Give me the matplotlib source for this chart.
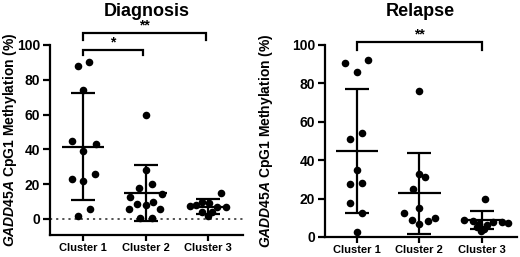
import numpy as np
import matplotlib
matplotlib.use("Agg")
import matplotlib.pyplot as plt

plt.rcParams['font.family'] = 'Liberation Sans'
plt.rcParams['font.weight'] = 'bold'
plt.rcParams['mathtext.fontset'] = 'custom'
plt.rcParams['mathtext.it'] = 'Liberation Sans:italic:bold'
plt.rcParams['mathtext.rm'] = 'Liberation Sans:bold'

clusters = ["Cluster 1", "Cluster 2", "Cluster 3"]
ylabel = r"$\mathit{GADD45A}$ CpG1 Methylation (%)"

# Diagnosis
diag_c1 = [88, 90, 74, 45, 43, 39, 23, 22, 26, 6, 2]
diag_c1_dx = [-0.08, 0.10, 0, -0.18, 0.20, 0, -0.18, 0, 0.19, 0.11, -0.08]
diag_c2 = [60, 28, 18, 20, 12.5, 14.5, 6, 8.5, 8, 10, 6, 0.5, 0.5]
diag_c2_dx = [0, 0, -0.11, 0.10, -0.25, 0.26, -0.27, -0.13, 0, 0.12, 0.23, -0.09, 0.10]
diag_c3 = [15, 10, 9, 8, 7.5, 7, 7, 4, 4, 1.5]
diag_c3_dx = [0.20, -0.10, 0.02, -0.20, -0.29, 0.14, 0.28, -0.10, 0.06, 0.0]
diag_mean = [41.6, 15.0, 7.1]
diag_sd = [30.6, 16.0, 4.4]

# Relapse
rel_c1 = [90.5, 92, 86, 51, 54, 35, 27.5, 28, 17.5, 12.3, 2.4]
rel_c1_dx = [-0.19, 0.18, 0, -0.11, 0.08, 0, -0.11, 0.08, -0.11, 0.08, 0]
rel_c2 = [76, 33, 31, 25, 15, 12.5, 9, 7, 8.5, 10]
rel_c2_dx = [0, 0, 0.09, -0.11, 0, -0.25, -0.12, 0, 0.13, 0.25]
rel_c3 = [20, 9, 8.5, 8, 8, 7.5, 7, 6, 5, 4, 3]
rel_c3_dx = [0.05, -0.28, -0.15, 0.18, 0.32, 0.42, -0.05, 0.08, -0.08, 0.03, -0.02]
rel_mean = [45.0, 22.7, 8.7]
rel_sd = [32.3, 20.9, 4.7]


def panel(ax, groups, offsets, means, sds):
    for i, (vals, dx) in enumerate(zip(groups, offsets)):
        ax.scatter(i + np.array(dx), vals, s=30, color='black', zorder=3,
                   clip_on=False, linewidths=0)
    x = np.arange(len(means))
    ax.errorbar(x, means, yerr=sds, fmt='none', ecolor='black', elinewidth=1.6,
                capsize=8.5, capthick=1.6, zorder=4)
    ax.hlines(means, x - 0.34, x + 0.34, color='black', lw=1.6, zorder=4)
    ax.spines['top'].set_visible(False)
    ax.spines['right'].set_visible(False)
    ax.spines['left'].set_linewidth(1.6)
    ax.spines['bottom'].set_linewidth(1.6)
    ax.set_xticks(x)
    ax.set_xticklabels(clusters, fontsize=8, fontweight='bold')
    ax.set_yticks([0, 20, 40, 60, 80, 100])
    ax.tick_params(axis='y', labelsize=10, width=1.6, length=5, pad=2)
    ax.tick_params(axis='x', width=1.6, length=4, pad=2)
    ax.set_ylabel(ylabel, fontsize=10, fontweight='bold')


def bracket(ax, x0, x1, y, drop, label):
    ax.plot([x0, x0, x1, x1], [y - drop, y, y, y - drop], color='black', lw=1.6,
            clip_on=False, solid_joinstyle='miter')
    ax.text((x0 + x1) / 2, y + 0.5, label, ha='center', va='bottom',
            fontsize=10, fontweight='bold')


fig = plt.figure(figsize=(5.2, 2.57), dpi=100)

ax1 = fig.add_axes([50 / 520, 1 - 235 / 257, 193 / 520, 190 / 257])
panel(ax1, [diag_c1, diag_c2, diag_c3], [diag_c1_dx, diag_c2_dx, diag_c3_dx],
      diag_mean, diag_sd)
ax1.set_xlim(-0.53, 2.56)
ax1.set_ylim(-9.2, 100)
ax1.axhline(0, color='#444444', lw=1.3, ls=(0, (1.2, 2.2)), zorder=1)
bracket(ax1, 0, 0.96, 97, 3, "*")
bracket(ax1, 0, 1.96, 106.7, 3.7, "**")
ax1.yaxis.set_label_coords(-0.163, 0.5)

ax2 = fig.add_axes([325 / 520, 1 - 237 / 257, 192 / 520, 192 / 257])
panel(ax2, [rel_c1, rel_c2, rel_c3], [rel_c1_dx, rel_c2_dx, rel_c3_dx],
      rel_mean, rel_sd)
ax2.set_xlim(-0.51, 2.56)
ax2.set_ylim(0, 100)
bracket(ax2, 0, 2.0, 101.4, 4, "**")
ax2.yaxis.set_label_coords(-0.26, 0.5)

fig.text(147 / 520, 1 - 11 / 257, "Diagnosis", ha='center', va='center',
         fontsize=13, fontweight='bold')
fig.text(420 / 520, 1 - 11 / 257, "Relapse", ha='center', va='center',
         fontsize=13, fontweight='bold')

fig.savefig("out.png", dpi=100)
